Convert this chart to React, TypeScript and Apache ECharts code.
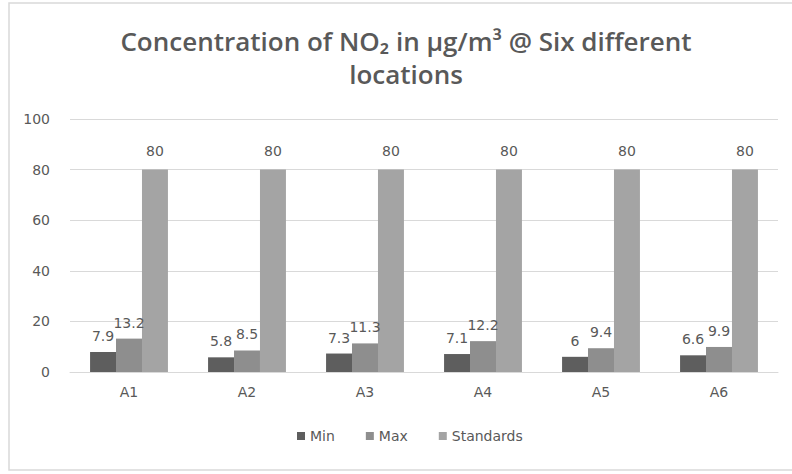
import React, { useEffect, useRef } from "react";
import * as echarts from "echarts";

const categories = ["A1", "A2", "A3", "A4", "A5", "A6"];
const minValues = [7.9, 5.8, 7.3, 7.1, 6, 6.6];
const maxValues = [13.2, 8.5, 11.3, 12.2, 9.4, 9.9];
const standardValues = [80, 80, 80, 80, 80, 80];
const yTicks = { min: 0, max: 100, interval: 20 };

const FONT = "'DejaVu Sans', 'Open Sans', sans-serif";
const TITLE_FONT = "'Open Sans', 'Noto Sans', sans-serif";
const TEXT = "#595959";

export default function App() {
  const ref = useRef<HTMLDivElement>(null);
  useEffect(() => {
    document.body.style.margin = "0";
    const chart = echarts.init(ref.current!, null, { renderer: "svg" });
    const label = {
      show: true,
      position: "top" as const,
      color: TEXT,
      fontSize: 14,
      fontFamily: FONT,
      distance: 9,
    };
    chart.setOption({
      animation: false,
      backgroundColor: "#ffffff",
      title: {
        text: "Concentration of NO\u2082 in \u00b5g/m\u00b3 @ Six different\nlocations",
        left: 401,
        textAlign: "center",
        top: 19,
        textStyle: {
          fontFamily: TITLE_FONT,
          fontSize: 26,
          fontWeight: 600,
          color: TEXT,
          lineHeight: 33,
        },
      },
      graphic: [
        {
          type: "rect",
          shape: { x: 9, y: 3, width: 800, height: 467 },
          style: { fill: "none", stroke: "#d9d9d9", lineWidth: 1.5 },
          silent: true,
        },
      ],
      legend: {
        bottom: 26,
        left: 292,
        itemWidth: 8,
        itemHeight: 8,
        itemGap: 31,
        icon: "rect",
        textStyle: { color: TEXT, fontSize: 14, fontFamily: FONT },
        data: ["Min", "Max", "Standards"],
      },
      grid: { left: 70, right: 14, top: 119, bottom: 102, containLabel: false },
      xAxis: {
        type: "category",
        data: categories,
        axisLine: { lineStyle: { color: "#d9d9d9" } },
        axisTick: { show: false },
        axisLabel: { color: TEXT, fontSize: 14, fontFamily: FONT, margin: 13 },
      },
      yAxis: {
        type: "value",
        min: yTicks.min,
        max: yTicks.max,
        interval: yTicks.interval,
        axisLine: { show: false },
        axisTick: { show: false },
        splitLine: { lineStyle: { color: "#d9d9d9", width: 1 } },
        axisLabel: { color: TEXT, fontSize: 14, fontFamily: FONT, margin: 20 },
      },
      series: [
        {
          name: "Min",
          type: "bar",
          data: minValues,
          barGap: "0%",
          barCategoryGap: "34%",
          itemStyle: { color: "#5e5e5e" },
          label,
        },
        {
          name: "Max",
          type: "bar",
          data: maxValues,
          itemStyle: { color: "#8e8e8e" },
          label,
        },
        {
          name: "Standards",
          type: "bar",
          data: standardValues,
          itemStyle: { color: "#a4a4a4" },
          label: { ...label, distance: 12 },
        },
      ],
    });
    return () => chart.dispose();
  }, []);
  return <div ref={ref} style={{ width: 792, height: 474 }} />;
}
